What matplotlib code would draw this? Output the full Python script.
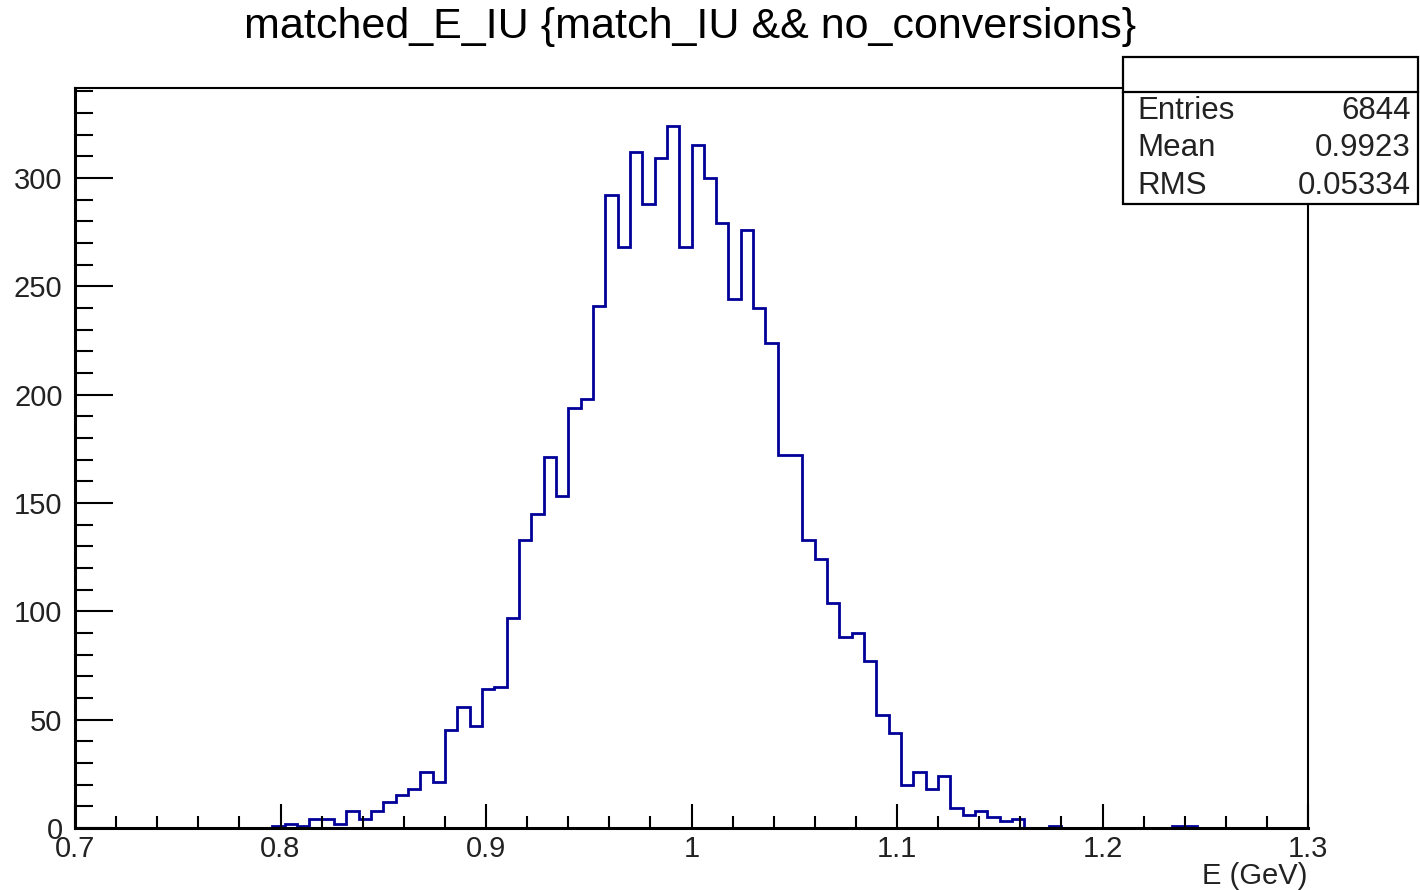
import numpy as np
import matplotlib
matplotlib.use('Agg')
import matplotlib.pyplot as plt
from matplotlib.patches import Rectangle
from matplotlib.lines import Line2D
from matplotlib.ticker import MultipleLocator

plt.rcParams['font.family'] = ['Liberation Sans', 'DejaVu Sans']

# histogram: 100 bins from 0.7 to 1.3
x_min, x_max, n_bins = 0.7, 1.3, 100
counts = [0] * n_bins
filled = {
    16: 1, 17: 2, 18: 1, 19: 4, 20: 4, 21: 2, 22: 8, 23: 4, 24: 8,
    25: 12, 26: 15, 27: 18, 28: 26, 29: 21, 30: 45, 31: 56, 32: 47,
    33: 64, 34: 65, 35: 97, 36: 133, 37: 145, 38: 171, 39: 153,
    40: 194, 41: 198, 42: 241, 43: 292, 44: 268, 45: 312, 46: 288,
    47: 309, 48: 324, 49: 268, 50: 315, 51: 300, 52: 279, 53: 244,
    54: 276, 55: 240, 56: 224, 57: 172, 58: 172, 59: 133, 60: 124,
    61: 104, 62: 88, 63: 90, 64: 77, 65: 52, 66: 44, 67: 20, 68: 26,
    69: 18, 70: 24, 71: 9, 72: 6, 73: 8, 74: 5, 75: 3, 76: 4,
    79: 1, 89: 1, 90: 1,
}
for k, v in filled.items():
    counts[k] = v
edges = np.linspace(x_min, x_max, n_bins + 1)

title = "matched_E_IU {match_IU && no_conversions}"
x_label = "E (GeV)"
x_ticks = [0.7, 0.8, 0.9, 1.0, 1.1, 1.2, 1.3]
x_tick_labels = ["0.7", "0.8", "0.9", "1", "1.1", "1.2", "1.3"]
stat_names = ["Entries", "Mean", "RMS"]
stat_values = ["6844", "0.9923", "0.05334"]

W, H = 1420, 890
fig = plt.figure(figsize=(W / 100, H / 100), dpi=100)
ax = fig.add_axes([75 / W, 1 - 828 / H, (1308 - 75) / W, (828 - 88) / H])

ax.stairs(counts, edges, color='#000099', linewidth=2.0, baseline=0)
ax.set_xlim(x_min, x_max)
ax.set_ylim(0, 341.5)

for s in ax.spines.values():
    s.set_linewidth(1.5)
    s.set_zorder(3)
ax.spines['bottom'].set_linewidth(2.2)
ax.spines['left'].set_linewidth(2.2)

ax.set_xticks(x_ticks)
ax.set_xticklabels(x_tick_labels)
ax.xaxis.set_minor_locator(MultipleLocator(0.02))
ax.yaxis.set_major_locator(MultipleLocator(50))
ax.yaxis.set_minor_locator(MultipleLocator(10))

ax.tick_params(axis='x', which='major', direction='in', length=17, width=1.5,
               top=False, labelsize=21, pad=5)
ax.tick_params(axis='x', which='minor', direction='in', length=8.5, width=1.5, top=False)
ax.tick_params(axis='y', which='major', direction='in', length=27, width=1.5,
               right=False, labelsize=21, pad=9)
ax.tick_params(axis='y', which='minor', direction='in', length=13, width=1.5, right=False)
for lab in ax.get_xticklabels() + ax.get_yticklabels():
    lab.set_color('#222222')

fig.text(690 / W, 1 - 27 / H, title, ha='center', va='center', fontsize=31)
fig.text(1307 / W, 1 - 876 / H, x_label, ha='right', va='center', fontsize=21,
         color='#222222')

# stats box
fig.add_artist(Rectangle((1123 / W, 1 - 204 / H), (1418 - 1123) / W, (204 - 57) / H,
                         transform=fig.transFigure, facecolor='white',
                         edgecolor='black', linewidth=1.6, zorder=5))
fig.add_artist(Line2D([1123 / W, 1418 / W], [1 - 92 / H, 1 - 92 / H],
                      transform=fig.transFigure, color='black', linewidth=1.6, zorder=6))
for i, (nm, val) in enumerate(zip(stat_names, stat_values)):
    yy = 1 - (111 + 37.5 * i) / H
    fig.text(1137 / W, yy, nm, ha='left', va='center', fontsize=22.5, zorder=7,
             color='#222222')
    fig.text(1411 / W, yy, val, ha='right', va='center', fontsize=22.5, zorder=7,
             color='#222222')

fig.savefig('out.png', dpi=100)
